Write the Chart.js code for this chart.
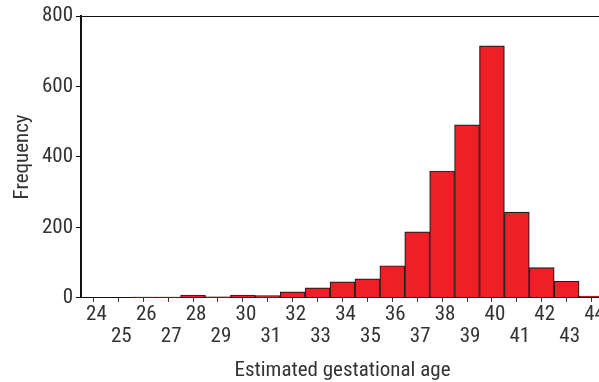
<!DOCTYPE html>
<html>
<head>
<meta charset="utf-8">
<script src="https://cdn.jsdelivr.net/npm/chart.js@4"></script>
<style>
  html, body { margin: 0; padding: 0; overflow: hidden; background: #fff; }
  #wrap { width: 606px; height: 382px; }
</style>
</head>
<body>
<div id="wrap"><canvas id="histChart" width="606" height="382"></canvas></div>
<script>
const ages = ["24", "25", "26", "27", "28", "29", "30", "31", "32", "33", "34",
  "35", "36", "37", "38", "39", "40", "41", "42", "43", "44"];
const frequency = [0, 0, 2, 2, 8, 3, 8, 6, 17, 28, 45, 54, 91, 187, 360, 491,
  715, 243, 86, 47, 5];
const yTicks = [0, 200, 400, 600, 800];

const fontFamily = "'Roboto Condensed', 'DejaVu Sans Condensed', sans-serif";

const ctx = document.getElementById("histChart").getContext("2d");
new Chart(ctx, {
  type: "bar",
  data: {
    labels: ages,
    datasets: [
      {
        label: "Frequency",
        data: frequency,
        backgroundColor: "#ee1f27",
        borderColor: "#1e1e1e",
        borderWidth: 1.2,
        barPercentage: 1,
        categoryPercentage: 1,
      },
    ],
  },
  options: {
    responsive: false,
    animation: false,
    layout: { padding: { top: 8, right: 2, left: 0, bottom: 0 } },
    plugins: { legend: { display: false }, tooltip: { enabled: false } },
    scales: {
      x: {
        offset: true,
        grid: { display: true, drawOnChartArea: false, offset: false, tickLength: 4, color: "#333" },
        border: { display: true, color: "#111", width: 1 },
        ticks: {
          autoSkip: false,
          maxRotation: 0,
          padding: 2,
          labelOffset: 3,
          color: "#333",
          font: { family: fontFamily, size: 21, lineHeight: 1.05 },
          callback: (value, index) => (index % 2 === 0 ? ages[index] : ["", ages[index]]),
        },
        title: {
          display: true,
          text: "Estimated gestational age",
          color: "#333",
          font: { family: fontFamily, size: 21, lineHeight: 1.1 },
          padding: { top: 9, bottom: 0 },
        },
      },
      xTop: {
        position: "top",
        type: "category",
        labels: ages,
        offset: true,
        grid: { display: false },
        border: { display: true, color: "#111", width: 1 },
        ticks: { display: false },
      },
      y: {
        min: 0,
        max: 800,
        afterBuildTicks: (scale) => {
          scale.ticks = yTicks.map((v) => ({ value: v }));
        },
        afterFit: (scale) => {
          scale.width = 81;
        },
        grid: { display: true, drawOnChartArea: false, tickLength: 5, color: "#111" },
        border: { display: true, color: "#111", width: 2 },
        ticks: {
          padding: 3,
          color: "#333",
          font: { family: fontFamily, size: 21 },
        },
        title: {
          display: true,
          text: "Frequency",
          color: "#333",
          font: { family: fontFamily, size: 21 },
          padding: { top: 10, bottom: 2 },
        },
      },
    },
  },
});
</script>
</body>
</html>
